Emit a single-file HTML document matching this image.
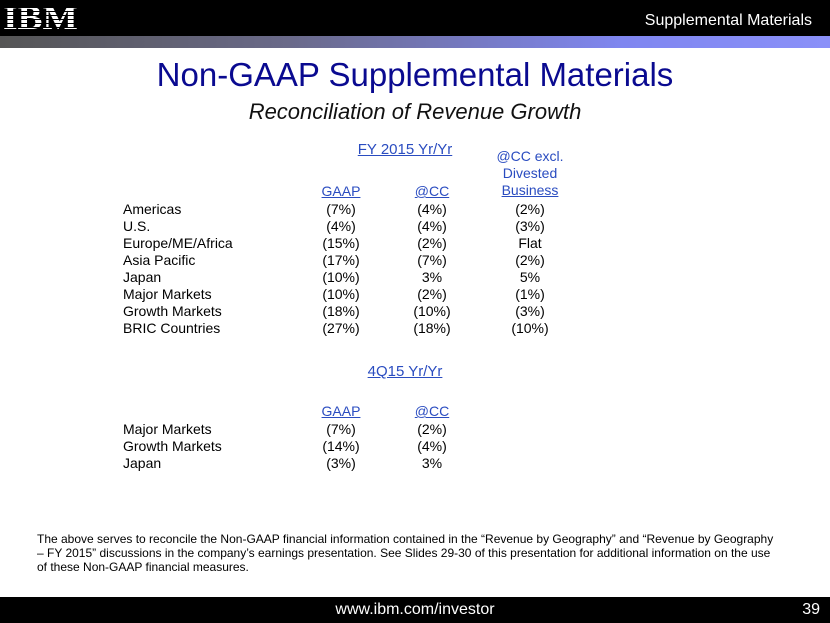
<!DOCTYPE html>
<html><head><meta charset="utf-8"><style>
body{margin:0;width:830px;height:623px;position:relative;background:#fff;font-family:"Liberation Sans",sans-serif;overflow:hidden}
.a{position:absolute;white-space:nowrap}
.c{position:absolute;transform:translateX(-50%);text-align:center;white-space:nowrap;font-size:14px;color:#000}
.l{position:absolute;font-size:14px;color:#000;white-space:nowrap}
.h{color:#2a4cc0;text-decoration:underline}
</style></head><body>
<div class="a" style="left:0;top:0;width:830px;height:36px;background:#000"></div>
<div class="a" style="left:0;top:36px;width:830px;height:12px;background:linear-gradient(90deg,#555 0%,#6a6a8a 35%,#7f86f0 75%,#8a90f8 100%)"></div>
<div class="a" style="left:3px;top:0px;font:bold 34px 'Liberation Serif',serif;letter-spacing:0px;background:repeating-linear-gradient(#fff 0 3px,#000 3px 4px);-webkit-background-clip:text;color:transparent;transform:scaleX(1.1);transform-origin:left">IBM</div>
<div class="a" style="right:18px;top:12px;font-size:16px;color:#fff">Supplemental Materials</div>
<div class="a" style="left:0;width:830px;text-align:center;top:56px;font-size:33px;color:#0a0a90">Non-GAAP Supplemental Materials</div>
<div class="a" style="left:0;width:830px;text-align:center;top:99px;font-size:22px;font-style:italic;color:#111">Reconciliation of Revenue Growth</div>
<div id="t"></div>
<div class="a" style="left:37px;top:532px;width:745px;white-space:normal;font-size:12px;line-height:14px;color:#000">The above serves to reconcile the Non-GAAP financial information contained in the “Revenue by Geography” and “Revenue by Geography – FY 2015” discussions in the company’s earnings presentation. See Slides 29-30 of this presentation for additional information on the use of these Non-GAAP financial measures.</div>
<div class="a" style="left:0;top:597px;width:830px;height:26px;background:#000"></div>
<div class="a" style="left:0;width:830px;text-align:center;top:601px;font-size:16px;color:#fff">www.ibm.com/investor</div>
<div class="a" style="right:10px;top:601px;font-size:16px;color:#fff">39</div>
<script>
const rows1=["Americas","U.S.","Europe/ME/Africa","Asia Pacific","Japan","Major Markets","Growth Markets","BRIC Countries"];
const gaap1=["(7%)","(4%)","(15%)","(17%)","(10%)","(10%)","(18%)","(27%)"];
const cc1=["(4%)","(4%)","(2%)","(7%)","3%","(2%)","(10%)","(18%)"];
const ex1=["(2%)","(3%)","Flat","(2%)","5%","(1%)","(3%)","(10%)"];
const rows2=["Major Markets","Growth Markets","Japan"];
const gaap2=["(7%)","(14%)","(3%)"];
const cc2=["(2%)","(4%)","3%"];
const T=document.getElementById('t');
function add(cls,x,y,txt,name){const d=document.createElement('div');d.className=cls;d.style.left=x+'px';d.style.top=y+'px';d.textContent=txt;


T.appendChild(d);return d;}
const f=add('c h',405,141,'FY 2015 Yr/Yr','fy2015-heading');f.style.fontSize='15px';
const e=add('c h',530,148,'','excl-header');e.style.textDecoration='none';e.style.lineHeight='17px';e.innerHTML='@CC excl.<br>Divested<br><u>Business</u>';
add('c h',341,183,'GAAP','gaap-header');add('c h',432,183,'@CC','cc-header');
rows1.forEach((r,i)=>{const y=201+i*17;add('l',123,y,r,'row-label');add('c',341,y,gaap1[i],'gaap-value');add('c',432,y,cc1[i],'cc-value');add('c',530,y,ex1[i],'excl-value');});
const q=add('c h',405,363,'4Q15 Yr/Yr','q4-heading');q.style.fontSize='15px';
add('c h',341,403,'GAAP','gaap-header-2');add('c h',432,403,'@CC','cc-header-2');
rows2.forEach((r,i)=>{const y=421+i*17;add('l',123,y,r,'row-label-2');add('c',341,y,gaap2[i],'gaap-value-2');add('c',432,y,cc2[i],'cc-value-2');});
</script>
</body></html>
